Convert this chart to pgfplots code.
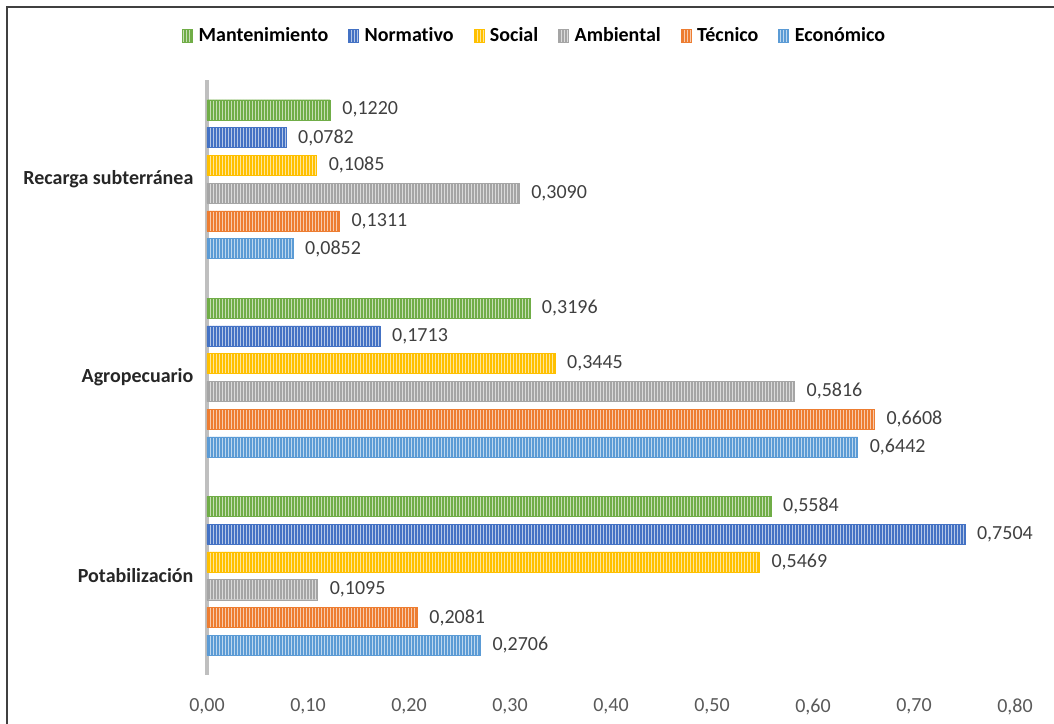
\documentclass[border=0pt]{standalone}
\usepackage{fontspec}
\setmainfont[Ligatures={NoCommon}]{Carlito}
\usepackage{pgfplots}
\pgfplotsset{compat=1.18}
\usetikzlibrary{patterns.meta}
\definecolor{cgreen}{HTML}{70AD47}
\definecolor{cblue}{HTML}{4472C4}
\definecolor{cyellow}{HTML}{FFC000}
\definecolor{cgray}{HTML}{A5A5A5}
\definecolor{corange}{HTML}{ED7D31}
\definecolor{clblue}{HTML}{5B9BD5}
\definecolor{labgray}{HTML}{404040}
\definecolor{tickgray}{HTML}{595959}
\tikzset{
  hbar/.style={fill=#1, draw=#1, line width=0.3pt,
    postaction={pattern={Lines[angle=90,distance=2.25pt,line width=0.5pt]}, pattern color=#1!40!white}}
}
\begin{document}
\fontsize{15}{18}\selectfont
\begin{tikzpicture}
\useasboundingbox (0,0) rectangle (790.5pt,543pt);
\draw[line width=1.5pt, black!75] (5.25pt,0) -- (5.25pt,537.75pt) -- (790.5pt,537.75pt);
\begin{axis}[
  at={(155.25pt,36.75pt)}, anchor=south west,
  scale only axis, width=606pt, height=446.25pt,
  xbar, bar width=0.101,
  xmin=0, xmax=0.8, ymin=-0.5, ymax=2.5,
  clip=false,
  axis y line*=left, axis x line*=bottom,
  x axis line style={draw=none},
  y axis line style={draw=black!25, line width=3pt},
  major tick length=0pt,
  xtick={0,0.1,0.2,0.3,0.4,0.5,0.6,0.7,0.8},
  scaled x ticks=false,
  /pgf/number format/assume math mode=true,
  xticklabel style={text=tickgray, yshift=-12.5pt, /pgf/number format/fixed, /pgf/number format/fixed zerofill, /pgf/number format/precision=2, /pgf/number format/use comma},
  ytick={0,1,2},
  yticklabels={Potabilización, Agropecuario, Recarga subterránea},
  yticklabel style={font=\bfseries, text=black!85, xshift=-5pt},
  point meta=x,
  nodes near coords={\pgfmathprintnumber[fixed,fixed zerofill,precision=4,use comma]{\pgfplotspointmeta}},
  every node near coord/.append style={text=labgray, xshift=4pt},
  legend columns=6,
  legend style={at={(0.406,1.074)}, anchor=center, draw=none, font=\bfseries,
    /tikz/every odd column/.append style={column sep=2.5pt},
    /tikz/every even column/.append style={column sep=13pt}},
  legend image code/.code={\path[#1, draw=none] (0pt,-4.5pt) rectangle (7.5pt,5pt);},
]
\addplot[hbar=cgreen, bar shift=0.35] coordinates {(0.5584,0) (0.3196,1) (0.1220,2)};
\addlegendentry{Mantenimiento}
\addplot[hbar=cblue, bar shift=0.21] coordinates {(0.7504,0) (0.1713,1) (0.0782,2)};
\addlegendentry{Normativo}
\addplot[hbar=cyellow, bar shift=0.07] coordinates {(0.5469,0) (0.3445,1) (0.1085,2)};
\addlegendentry{Social}
\addplot[hbar=cgray, bar shift=-0.07] coordinates {(0.1095,0) (0.5816,1) (0.3090,2)};
\addlegendentry{Ambiental}
\addplot[hbar=corange, bar shift=-0.21] coordinates {(0.2081,0) (0.6608,1) (0.1311,2)};
\addlegendentry{Técnico}
\addplot[hbar=clblue, bar shift=-0.35] coordinates {(0.2706,0) (0.6442,1) (0.0852,2)};
\addlegendentry{Económico}
\end{axis}
\end{tikzpicture}
\end{document}
